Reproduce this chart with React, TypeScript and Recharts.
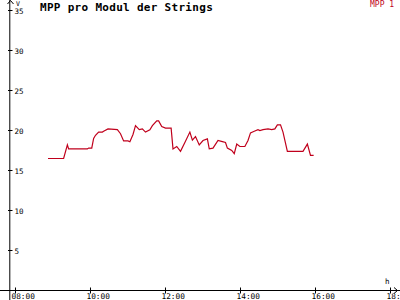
import { LineChart, Line, XAxis, YAxis, ReferenceLine } from "recharts";

const times = [
  "08:52", "09:17", "09:23", "09:25", "09:55", "09:57", "10:02", "10:05", "10:08", "10:13",
  "10:19", "10:21", "10:28", "10:43", "10:48", "10:53", "11:00", "11:03", "11:08", "11:12",
  "11:18", "11:23", "11:28", "11:35", "11:39", "11:46", "11:49", "11:54", "12:00", "12:09",
  "12:12", "12:18", "12:24", "12:31", "12:39", "12:43", "12:48", "12:54", "13:00", "13:07",
  "13:10", "13:16", "13:24", "13:31", "13:36", "13:39", "13:46", "13:50", "13:54", "13:59",
  "14:07", "14:12", "14:16", "14:22", "14:28", "14:31", "14:36", "14:44", "14:50", "14:55",
  "14:59", "15:04", "15:08", "15:15", "15:40", "15:47", "15:52", "15:57",
];

const mpp1 = [
  16.5, 16.5, 18.2, 17.7, 17.7, 17.8, 17.8, 19.0, 19.4, 19.8,
  19.8, 19.9, 20.2, 20.1, 19.6, 18.7, 18.7, 18.6, 19.5, 20.6,
  20.1, 20.2, 19.8, 20.1, 20.6, 21.2, 21.2, 20.5, 20.3, 20.3,
  17.7, 18.0, 17.4, 18.5, 19.8, 18.8, 19.25, 18.2, 18.75, 18.95,
  17.7, 17.8, 18.75, 18.6, 18.5, 17.8, 17.5, 17.1, 18.3, 18.0,
  18.0, 18.75, 19.7, 19.9, 20.1, 20.0, 20.1, 20.2, 20.1, 20.2,
  20.7, 20.7, 19.8, 17.4, 17.4, 18.3, 16.9, 16.9,
];

const xTicks = [8, 10, 12, 14, 16, 18];
const xTickLabels = ["08:00", "10:00", "12:00", "14:00", "16:00", "18:00"];
const yTicks = [5, 10, 15, 20, 25, 30, 35];

const toHours = (s: string) => {
  const [h, m] = s.split(":").map(Number);
  return h + m / 60;
};

const data = times.map((t, i) => ({ t: toHours(t), mpp1: mpp1[i] }));

const MONO = "'DejaVu Sans Mono', monospace";
const RED = "#c0001c";
const AXIS_X = 10.5;
const AXIS_Y = 290.5;
const X_START = 7.848; // y axis sits just before 08:00

function YTick(props: any) {
  const { y, payload } = props;
  return (
    <g>
      <line x1={AXIS_X - 2.5} x2={AXIS_X + 2} y1={y} y2={y} stroke="#000" />
      <text x={AXIS_X + 4} y={y + 3} fontSize={7.5} fontFamily={MONO} fill="#000">
        {payload.value}
      </text>
    </g>
  );
}

function XTick(props: any) {
  const { x, payload } = props;
  const label = xTickLabels[xTicks.indexOf(payload.value)];
  return (
    <g>
      <line x1={x} x2={x} y1={AXIS_Y - 3} y2={AXIS_Y + 3} stroke="#000" />
      <text x={x - 4} y={299} fontSize={7.8} fontFamily={MONO} fill="#000">
        {label}
      </text>
    </g>
  );
}

export default function App() {
  return (
    <div style={{ position: "absolute", left: 0, top: 0, background: "#fff" }}>
      <LineChart width={400} height={300} data={data} margin={{ top: 0, right: 0, bottom: 0, left: 0 }}>
        <XAxis
          dataKey="t"
          type="number"
          domain={[7.5867, 18.2533]}
          ticks={xTicks}
          interval={0}
          height={12}
          mirror
          axisLine={false}
          tickLine={false}
          tickSize={0}
          tickMargin={0}
          tick={<XTick />}
          allowDataOverflow
        />
        <YAxis
          type="number"
          domain={[-1.1875, 36.3125]}
          ticks={yTicks}
          interval={0}
          width={20}
          mirror
          axisLine={false}
          tickLine={false}
          tickSize={0}
          tickMargin={0}
          tick={<YTick />}
          allowDataOverflow
        />
        <ReferenceLine x={X_START} stroke="#000" strokeWidth={1} />
        <ReferenceLine y={0} stroke="#000" strokeWidth={1} />
        <Line
          dataKey="mpp1"
          stroke={RED}
          strokeWidth={1.2}
          dot={false}
          activeDot={false}
          isAnimationActive={false}
        />
        <path d={`M${AXIS_X - 3},4 L${AXIS_X},0.5 L${AXIS_X + 3},4`} fill="none" stroke="#000" />
        <text x={16} y={6} fontSize={6.5} fontFamily={MONO} fill="#000">V</text>
        <path d={`M394,${AXIS_Y - 3} L397.5,${AXIS_Y} L394,${AXIS_Y + 3}`} fill="none" stroke="#000" />
        <text x={385} y={284} fontSize={7.5} fontFamily={MONO} fill="#000">h</text>
        <text x={40} y={10.5} fontSize={11} fontWeight="bold" letterSpacing={0.3} fontFamily={MONO} fill="#000">
          MPP pro Modul der Strings
        </text>
        <text x={370} y={7} fontSize={8} fontFamily={MONO} fill={RED}>MPP 1</text>
      </LineChart>
    </div>
  );
}
